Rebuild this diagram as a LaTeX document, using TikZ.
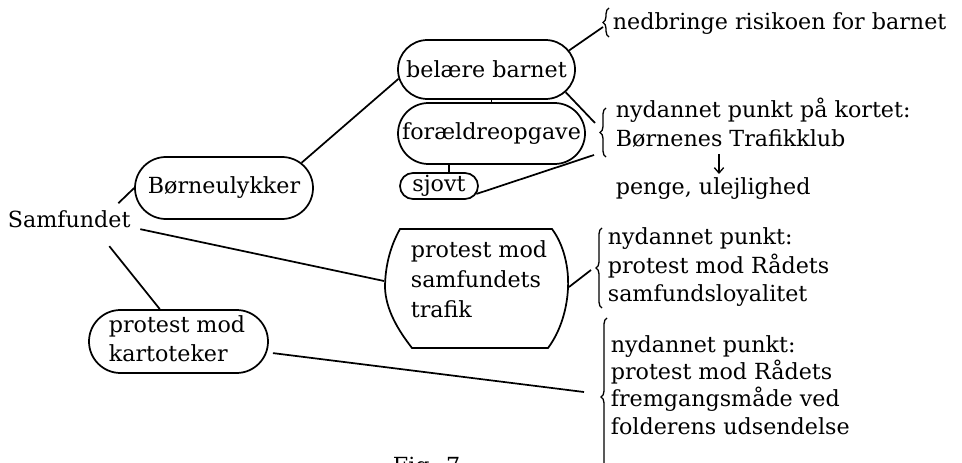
\documentclass[tikz,border=0pt]{standalone}
\usepackage{fontspec}
\setmainfont{DejaVu Serif}
\usetikzlibrary{shapes.misc,decorations.pathreplacing,calc,arrows.meta}
\begin{document}
\begin{tikzpicture}[x=0.75pt,y=-0.75pt,
  every node/.style={font=\fontsize{16.65}{21}\selectfont},
  line width=1.3pt,
  bx/.style 2 args={draw, rounded rectangle, minimum width=#1*0.75pt, minimum height=#2*0.75pt, inner sep=0pt},
  tx/.style={inner sep=0pt, anchor=base west},
  brc/.style={decorate, decoration={brace, amplitude=4.5pt}, line width=1pt},
  arr/.style={line width=1pt, -{Straight Barb[length=4pt,width=7pt]}},
]
\useasboundingbox (0,0) rectangle (962,463);

% boxes
\node[bx={178}{62}] (bor) at (224,188) {\makebox[0pt]{Børneulykker}};
\node[bx={177}{59}] (bel) at (486.5,69.5) {\makebox[0pt]{belære barnet}};
\node[bx={187}{61}] (fo) at (491.5,133.5) {\makebox[0pt]{forældreopgave}};
\node[bx={78}{26}] (sjo) at (439,186) {\makebox[0pt]{sjovt}};
\node[bx={179}{63}] (kar) at (178.5,341.5) {};
\node[tx] (kar1) at (108,332) {protest mod};
\node[tx] (kar2) at (108,361) {kartoteker};

% barrel box
\node[minimum width=183*0.75pt, minimum height=119*0.75pt, inner sep=0pt] (tra) at (476.5,288.5) {};
\draw (400,229) -- (552,229) .. controls (564,245) and (569,268) .. (568,288)
  .. controls (567,310) and (560,332) .. (548,348) -- (412,348)
  .. controls (398,330) and (386,310) .. (385,288)
  .. controls (385,265) and (391,245) .. (400,229) -- cycle;
\coordinate (traW) at (384,281);
\coordinate (traE) at (569,287);
\node[tx] (tra1) at (410,257) {protest mod};
\node[tx] (tra2) at (410,287) {samfundets};
\node[tx] (tra3) at (410,317) {trafik};

% root
\node[tx] (sam) at (7,227) {Samfundet};

% right texts
\node[tx] (ned) at (612,30) {nedbringe risikoen for barnet};
\node[tx] (ny1) at (615,118) {nydannet punkt på kortet:};
\node[tx] (bt) at (615,147) {Børnenes Trafikklub};
\node[tx] (pen) at (615,195) {penge, ulejlighed};
\node[tx] (s1) at (607,244) {nydannet punkt:};
\node[tx] (s2) at (607,273) {protest mod Rådets};
\node[tx] (s3) at (607,301) {samfundsloyalitet};
\node[tx] (f1) at (610,352) {nydannet punkt:};
\node[tx] (f2) at (610,379) {protest mod Rådets};
\node[tx] (f3) at (610,406) {fremgangsmåde ved};
\node[tx] (f4) at (610,434) {folderens udsendelse};
\node[tx] (fig) at (392,473) {Fig. 7};

% braces
\draw[brc] (609,37) -- (609,8);
\draw[brc] (606,157) -- (606,108);
\draw[brc] (602,308) -- (602,228);
\draw[brc] (607,476) -- (607,318);
\coordinate (b1) at (603,27);
\coordinate (b2a) at (595,123);
\coordinate (b2b) at (594,155);
\coordinate (b3) at (591,270);
\coordinate (b4) at (584,392);

% arrow
\coordinate (arA) at (719,154);
\coordinate (arB) at (719,174);
\draw[arr] (arA) -- (arB);

% connectors
\draw ($(sam.north east)+(-13,-6)$) -- (bor.west);
\draw (bor.18) -- (bel.186);
\draw (bel.13) -- (b1);
\draw (fo.north) -- (fo.north |- bel.south);
\draw (bel.-16) -- (b2a);
\coordinate (sjtop) at ($(sjo.north)+(10,0)$);
\draw (sjtop) -- (sjtop |- fo.south);
\draw (sjo.-12) -- (b2b);
\draw ($(sam.south east)+(9,1)$) -- (traW);
\draw (traE) -- (b3);
\draw ($(sam.south east)+(-22,18)$) -- (kar.120);
\draw[shorten <=4.5pt] (kar.-7) -- (b4);
\end{tikzpicture}
\end{document}
